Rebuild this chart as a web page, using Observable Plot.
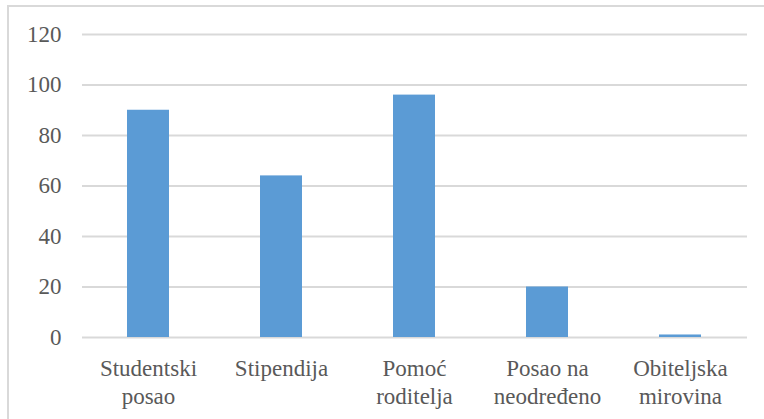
<!DOCTYPE html>
<html>
<head>
<meta charset="utf-8">
<script src="https://cdn.jsdelivr.net/npm/d3@7"></script>
<script src="https://cdn.jsdelivr.net/npm/@observablehq/plot@0.6"></script>
<style>
  html, body { margin: 0; padding: 0; background: #fff; }
  #wrap { position: relative; width: 764px; height: 419px; overflow: hidden; }
  #border { position: absolute; left: 7px; top: 5px; width: 800px; height: 500px; border-left: 2px solid #d9d9d9; border-top: 2px solid #d9d9d9; box-sizing: border-box; }
  #chart { position: absolute; left: 0; top: 0; }
</style>
</head>
<body>
<div id="wrap"><div id="border"></div><div id="chart"></div></div>
<script>
const categories = ["Studentski\nposao", "Stipendija", "Pomoć\nroditelja", "Posao na\nneodređeno", "Obiteljska\nmirovina"];
const values = [90, 64, 96, 20, 1];
const yTicks = [0, 20, 40, 60, 80, 100, 120];

const data = categories.map((c, i) => ({category: c, value: values[i]}));

const chart = Plot.plot({
  width: 764,
  height: 419,
  marginLeft: 82,
  marginRight: 17,
  marginTop: 34,
  marginBottom: 82,
  style: {background: "transparent"},
  x: {domain: categories, paddingInner: 0.684, paddingOuter: 0.342, label: null},
  y: {domain: [0, 120], label: null},
  marks: [
    Plot.gridY(yTicks, {stroke: "#d9d9d9", strokeOpacity: 1, strokeWidth: 2}),
    Plot.barY(data, {x: "category", y: "value", fill: "#5b9bd5"}),
    Plot.axisY(yTicks, {tickSize: 0, tickPadding: 21, fontSize: 23, fontFamily: "Liberation Serif", fill: "#595959", label: null}),
    Plot.axisX({tickSize: 0, tickPadding: 19, fontSize: 23, fontFamily: "Liberation Serif", fill: "#595959", lineHeight: 1.22, label: null})
  ]
});
document.getElementById("chart").appendChild(chart);
</script>
</body>
</html>
